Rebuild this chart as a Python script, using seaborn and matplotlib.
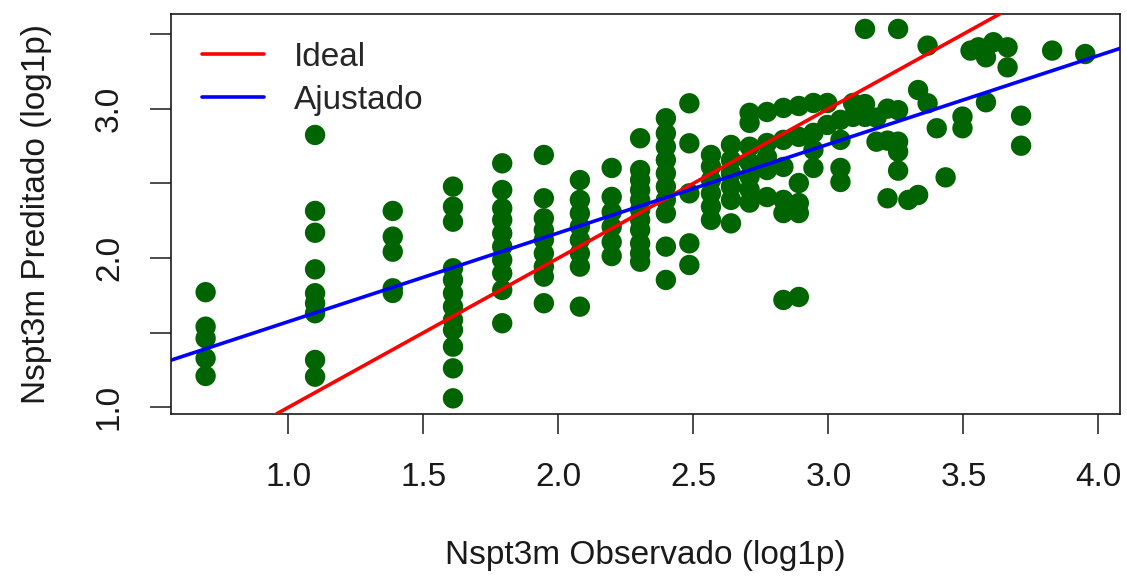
import numpy as np
import pandas as pd
import matplotlib
matplotlib.use("Agg")
import matplotlib.pyplot as plt
import seaborn as sns

# Observed Nspt at 3 m (blow counts) and the model's predicted value on the log1p scale
obs_nspt = [
    1, 1, 1, 1, 1,
    2, 2, 2, 2, 2, 2, 2, 2, 2,
    3, 3, 3, 3, 3,
    4, 4, 4, 4, 4, 4, 4, 4, 4, 4, 4, 4,
    5, 5, 5, 5, 5, 5, 5, 5, 5, 5,
    6, 6, 6, 6, 6, 6, 6, 6, 6,
    7, 7, 7, 7, 7, 7, 7, 7,
    8, 8, 8, 8, 8, 8,
    9, 9, 9, 9, 9, 9, 9, 9, 9, 9, 9,
    10, 10, 10, 10, 10, 10, 10, 10, 10, 10,
    11, 11, 11, 11, 11,
    12, 12, 12, 12, 12, 12,
    13, 13, 13, 13, 13, 13,
    14, 14, 14, 14, 14, 14, 14,
    15, 15, 15, 15, 15,
    16, 16, 16, 16, 16, 16,
    17, 17, 17, 17, 17, 17,
    18, 18, 18, 18,
    19, 19,
    20, 20, 20, 20,
    21, 21,
    22, 22, 22,
    23, 23,
    24, 24, 24,
    25, 25, 25, 25, 25,
    26,
    27, 27,
    28, 28,
    29,
    30,
    32, 32,
    33,
    34,
    35, 35,
    36,
    38, 38,
    40, 40,
    45,
    51,
]
pred_log1p = [
    1.771, 1.540, 1.462, 1.328, 1.210,
    2.824, 2.315, 2.169, 1.924, 1.764, 1.697, 1.630, 1.317, 1.205,
    2.315, 2.143, 2.042, 1.797, 1.766,
    2.478, 2.344, 2.243, 1.931, 1.853, 1.764, 1.674, 1.585, 1.518, 1.406, 1.261, 1.060,
    2.634, 2.455, 2.333, 2.255, 2.165, 2.076, 1.987, 1.898, 1.786, 1.563,
    2.690, 2.400, 2.266, 2.188, 2.121, 2.031, 1.942, 1.875, 1.697,
    2.522, 2.389, 2.299, 2.210, 2.121, 2.031, 1.942, 1.674,
    2.603, 2.409, 2.308, 2.208, 2.107, 2.013,
    2.802, 2.589, 2.522, 2.455, 2.389, 2.322, 2.255, 2.188, 2.098, 2.031, 1.975,
    2.936, 2.835, 2.745, 2.656, 2.567, 2.478, 2.389, 2.299, 2.076, 1.853,
    3.036, 2.768, 2.433, 2.098, 1.953,
    2.690, 2.612, 2.522, 2.433, 2.344, 2.255,
    2.757, 2.656, 2.567, 2.478, 2.389, 2.232,
    2.972, 2.905, 2.745, 2.638, 2.545, 2.458, 2.371,
    2.978, 2.770, 2.676, 2.589, 2.408,
    3.005, 2.791, 2.610, 2.389, 2.301, 1.719,
    3.018, 2.811, 2.502, 2.368, 2.301, 1.739,
    3.038, 2.838, 2.724, 2.603,
    3.038, 2.891,
    2.925, 2.791, 2.603, 2.509,
    3.038, 2.945,
    3.534, 3.031, 2.945,
    2.940, 2.779,
    3.000, 2.786, 2.400,
    3.534, 2.990, 2.779, 2.712, 2.585,
    2.389,
    3.125, 2.422,
    3.422, 3.036,
    2.869,
    2.540,
    2.947, 2.869,
    3.389,
    3.411,
    3.344, 3.043,
    3.445,
    3.411, 3.277,
    2.953, 2.752,
    3.389,
    3.366,
]

# Reference line (perfect prediction) and least-squares fit
ideal_intercept, ideal_slope = 0.0, 1.0
fit_intercept, fit_slope = 0.98, 0.594

x_ticks = [1.0, 1.5, 2.0, 2.5, 3.0, 3.5, 4.0]
x_tick_labels = ["1.0", "1.5", "2.0", "2.5", "3.0", "3.5", "4.0"]
y_ticks = [1.0, 1.5, 2.0, 2.5, 3.0, 3.5]
y_tick_labels = ["1.0", "", "2.0", "", "3.0", ""]

df = pd.DataFrame({"observado": np.log1p(obs_nspt), "preditado": pred_log1p})

sns.set_style("ticks")
plt.rcParams["font.family"] = ["Liberation Sans", "DejaVu Sans"]

FS = 24
fig = plt.figure(figsize=(11.27, 5.81), dpi=100)
ax = fig.add_axes([0.1515, 0.2874, 0.8423, 0.6885])

sns.scatterplot(data=df, x="observado", y="preditado", color="#006400",
                s=215, edgecolor="none", linewidth=0, ax=ax, zorder=2)

ax.axline((0, ideal_intercept), slope=ideal_slope, color="#ff0000", lw=2.6,
          label="Ideal", zorder=3)
ax.axline((0, fit_intercept), slope=fit_slope, color="#0000ff", lw=2.6,
          label="Ajustado", zorder=3)

ax.set_xlim(0.564, 4.080)
ax.set_ylim(0.955, 3.634)

ax.set_xticks(x_ticks)
ax.set_xticklabels(x_tick_labels, fontsize=FS, color="#1a1a1a")
ax.set_yticks(y_ticks)
ax.set_yticklabels(y_tick_labels, fontsize=FS, color="#1a1a1a",
                   rotation=90, va="center")
ax.tick_params(axis="x", length=14.4, width=1.1, pad=20, color="#1a1a1a")
ax.tick_params(axis="y", length=15, width=1.1, pad=18, color="#1a1a1a")

for sp in ax.spines.values():
    sp.set_visible(True)
    sp.set_linewidth(1.2)
    sp.set_color("#1a1a1a")

ax.set_xlabel("Nspt3m Observado (log1p)", fontsize=FS, color="#1a1a1a")
ax.set_ylabel("Nspt3m Preditado (log1p)", fontsize=FS, color="#1a1a1a")
ax.xaxis.set_label_coords(0.5, -0.315)
ax.yaxis.set_label_coords(-0.125, 0.5)

ax.legend(loc="upper left", bbox_to_anchor=(0.033, 0.93), frameon=False,
          fontsize=FS, handlelength=1.85, handletextpad=0.9,
          labelspacing=0.35, borderaxespad=0, borderpad=0)

fig.savefig("out.png", dpi=100)
